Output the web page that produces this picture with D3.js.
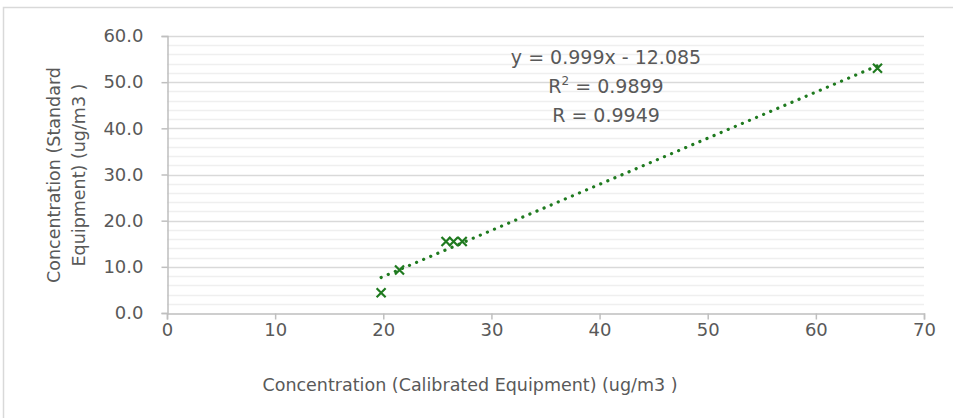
<!DOCTYPE html>
<html>
<head>
<meta charset="utf-8">
<script src="https://cdn.jsdelivr.net/npm/d3@7"></script>
<style>
  body { margin: 0; background: #fff; }
  svg { display: block; font-family: "DejaVu Sans", sans-serif; }
</style>
</head>
<body>
<svg id="chart" width="953" height="418"></svg>
<script>
// data
const calibrated = [19.8, 21.5, 25.8, 26.5, 27.3, 65.7];
const standard   = [4.4, 9.3, 15.5, 15.5, 15.5, 53.0];
const xTicks = [0, 10, 20, 30, 40, 50, 60, 70];
const yTicks = [0, 10, 20, 30, 40, 50, 60];
const trendSlope = 0.999;
const trendIntercept = -12.085;
const eqLines = ["y = 0.999x - 12.085", "R2 = 0.9899", "R = 0.9949"];

const green = "#1f7a1f";
const textCol = "#595959";
const svg = d3.select("#chart");

// outer chart border (cropped on right/bottom)
svg.append("rect")
  .attr("x", 3.5).attr("y", 7.5)
  .attr("width", 960).attr("height", 420)
  .attr("fill", "none").attr("stroke", "#d9d9d9").attr("stroke-width", 1.5);

const x = d3.scaleLinear().domain([0, 70]).range([167, 924]);
const y = d3.scaleLinear().domain([0, 60]).range([313, 36]);

// minor gridlines every 2 units
const minor = d3.range(2, 60, 2).filter(v => v % 10 !== 0);
svg.append("g").selectAll("line").data(minor).join("line")
  .attr("x1", x(0)).attr("x2", x(70))
  .attr("y1", d => Math.round(y(d)) + 0.5).attr("y2", d => Math.round(y(d)) + 0.5)
  .attr("stroke", "#efefef").attr("stroke-width", 1.5);

// major gridlines
svg.append("g").selectAll("line").data(yTicks.filter(v => v > 0)).join("line")
  .attr("x1", x(0)).attr("x2", x(70))
  .attr("y1", d => Math.round(y(d)) + 0.5).attr("y2", d => Math.round(y(d)) + 0.5)
  .attr("stroke", "#d9d9d9").attr("stroke-width", 1.5);

// axes
const xAxis = svg.append("g")
  .attr("transform", `translate(0,${Math.round(y(0)) + 0.5})`)
  .call(d3.axisBottom(x).tickValues(xTicks).tickSize(6).tickPadding(4).tickFormat(d3.format("d")));
const yAxis = svg.append("g")
  .attr("transform", `translate(${Math.round(x(0)) + 0.5},0)`)
  .call(d3.axisLeft(y).tickValues(yTicks).tickSize(6).tickPadding(18).tickFormat(d3.format(".1f")));

[xAxis, yAxis].forEach(a => {
  a.select(".domain").attr("stroke", "#bfbfbf").attr("stroke-width", 1.5);
  a.selectAll(".tick line").attr("stroke", "#bfbfbf").attr("stroke-width", 1.5);
  a.selectAll(".tick text").attr("fill", textCol).attr("font-size", 18)
    .attr("font-family", "DejaVu Sans, sans-serif");
});

// axis titles
svg.append("text")
  .attr("x", 470).attr("y", 391)
  .attr("text-anchor", "middle").attr("font-size", 17.5).attr("fill", textCol)
  .text("Concentration (Calibrated Equipment) (ug/m3 )");

const yTitle = svg.append("text")
  .attr("transform", "translate(0,175) rotate(-90)")
  .attr("text-anchor", "middle").attr("font-size", 17.5).attr("fill", textCol);
yTitle.append("tspan").attr("x", 0).attr("y", 60).text("Concentration (Standard");
yTitle.append("tspan").attr("x", 0).attr("y", 85).text("Equipment) (ug/m3 )");

// trendline
const xMin = d3.min(calibrated), xMax = d3.max(calibrated);
svg.append("line")
  .attr("x1", x(xMin)).attr("y1", y(trendSlope * xMin + trendIntercept))
  .attr("x2", x(xMax)).attr("y2", y(trendSlope * xMax + trendIntercept))
  .attr("stroke", green).attr("stroke-width", 3.2)
  .attr("stroke-linecap", "round").attr("stroke-dasharray", "0.1 7.6");

// x markers
const pts = calibrated.map((c, i) => [c, standard[i]]);
const s = 4.5;
svg.append("g").selectAll("path").data(pts).join("path")
  .attr("d", d => {
    const px = x(d[0]), py = y(d[1]);
    return `M${px - s},${py - s}L${px + s},${py + s}M${px - s},${py + s}L${px + s},${py - s}`;
  })
  .attr("stroke", green).attr("stroke-width", 2.2).attr("fill", "none");

// equation label
const eq = svg.append("text")
  .attr("text-anchor", "middle").attr("font-size", 19).attr("fill", textCol);
eqLines.forEach((line, i) => {
  const t = eq.append("tspan").attr("x", 606).attr("y", 64 + i * 29);
  if (line.startsWith("R2")) {
    t.append("tspan").text("R");
    t.append("tspan").attr("dy", -8).attr("font-size", 12).text("2");
    t.append("tspan").attr("dy", 8).text(line.slice(2));
  } else {
    t.text(line);
  }
});
</script>
</body>
</html>
